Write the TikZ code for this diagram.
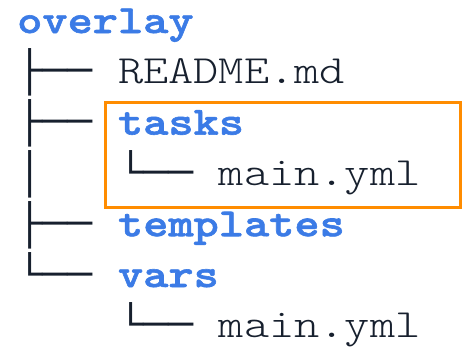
\documentclass[tikz,border=0pt]{standalone}
\usepackage{fontspec}
% box-drawing glyphs for the tree branches
\newfontfamily\branchfont{Liberation Mono}
% typewriter faces for file and directory names, widened to a 0.6em pitch
\newfontfamily\namefont{lmmonolt10-regular.otf}[FakeStretch=1.2]
\newfontfamily\dirfont{lmmonolt10-bold.otf}[FakeStretch=1.2,FakeBold=1.5]
\definecolor{dirblue}{HTML}{3B7BE6}
\definecolor{inkdark}{HTML}{17202E}
\definecolor{hilite}{HTML}{FF8C00}
\newcommand{\br}[1]{{\branchfont\fontsize{42}{50}\selectfont #1}}
\newcommand{\fname}[1]{{\namefont\fontsize{40}{50}\selectfont #1}}
\newcommand{\dname}[1]{{\dirfont\fontsize{40}{50}\selectfont\color{dirblue}#1}}
\begin{document}
\begin{tikzpicture}[x=1pt,y=-1pt,
  treeline/.style={anchor=base west, inner sep=0pt, text=inkdark},
  focusbox/.style={draw=hilite, line width=3pt}]
\useasboundingbox (0,0) rectangle (462,351);
\fill[white] (0,0) rectangle (462,351);
\def\pitch{50.8}
\node[treeline] (root) at (17,33) {\dname{overlay}};
\node[treeline] (readme) at (17,{33+\pitch}) {\br{├── }\fname{README.md}};
\node[treeline] (tasks) at (17,{33+2*\pitch}) {\br{├── }\dname{tasks}};
\node[treeline] (tasksmain) at (17,{33+3*\pitch}) {\br{│\ \ \ └── }\fname{main.yml}};
\node[treeline] (templates) at (17,{33+4*\pitch}) {\br{├── }\dname{templates}};
\node[treeline] (vars) at (17,{33+5*\pitch}) {\br{└── }\dname{vars}};
\node[treeline] (varsmain) at (17,{33+6*\pitch}) {\br{\ \ \ \ └── }\fname{main.yml}};
% highlight around the tasks directory
\draw[focusbox] (105.5,102.5) rectangle (460.5,207);
\end{tikzpicture}
\end{document}
